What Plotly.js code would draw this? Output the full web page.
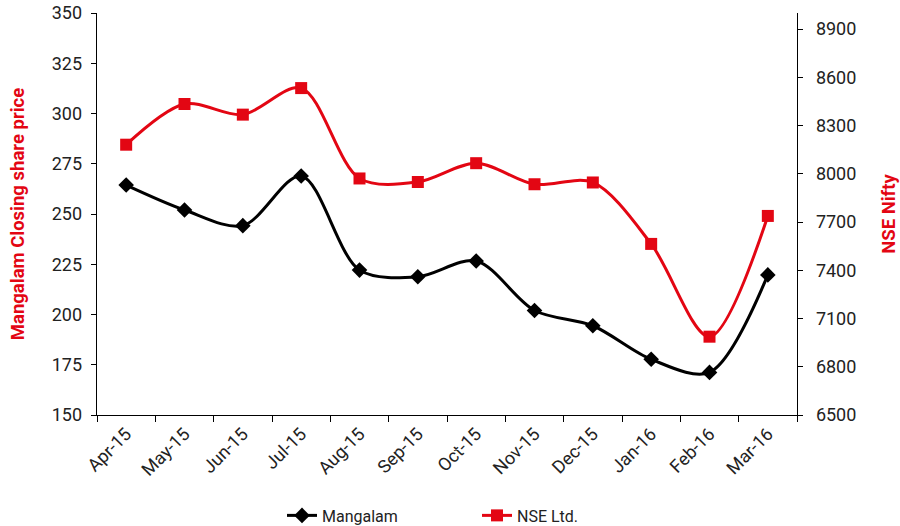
<!DOCTYPE html>
<html>
<head>
<meta charset="utf-8">
<script src="https://cdn.plot.ly/plotly-3.0.1.min.js"></script>
<style>html,body{margin:0;padding:0;background:#fff}#chart{width:900px;height:526px}</style>
</head>
<body>
<div id="chart"></div>
<script>
const months = ["Apr-15","May-15","Jun-15","Jul-15","Aug-15","Sep-15","Oct-15","Nov-15","Dec-15","Jan-16","Feb-16","Mar-16"];
const mangalam = [264.4, 252.0, 244.2, 268.9, 222.1, 218.8, 226.6, 202.0, 194.4, 177.7, 171.2, 219.7];
const nse = [8181, 8434, 8368, 8533, 7971, 7949, 8066, 7935, 7946, 7564, 6987, 7738];
const leftTicks = [150, 175, 200, 225, 250, 275, 300, 325, 350];
const rightTicks = [6500, 6800, 7100, 7400, 7700, 8000, 8300, 8600, 8900];

const red = "#e30613";
const txt = "#222222";

const traces = [
  {
    x: months, y: mangalam, name: "Mangalam", type: "scatter", mode: "lines+markers",
    line: {color: "#000000", width: 3, shape: "spline", smoothing: 0.9},
    marker: {symbol: "diamond", size: 12, color: "#000000"},
    yaxis: "y"
  },
  {
    x: months, y: nse, name: "NSE Ltd.", type: "scatter", mode: "lines+markers",
    line: {color: red, width: 3, shape: "spline", smoothing: 0.9},
    marker: {symbol: "square", size: 12, color: red},
    yaxis: "y2"
  }
];

const layout = {
  width: 900, height: 526,
  margin: {l: 97, r: 103, t: 13, b: 111},
  paper_bgcolor: "#ffffff", plot_bgcolor: "#ffffff",
  font: {family: "Roboto, sans-serif", color: txt, size: 18},
  showlegend: true,
  legend: {orientation: "h", x: 0.53, xanchor: "center", xref: "container",
           y: 0.02, yanchor: "middle", yref: "container",
           font: {size: 16, color: txt}, entrywidth: 150, entrywidthmode: "pixels"},
  xaxis: {
    type: "category", range: [-0.5, 11.5], automargin: false,
    showline: true, linecolor: "#000", linewidth: 1.3,
    ticks: "outside", tickson: "boundaries", ticklen: 6, tickcolor: "#000",
    tickangle: -45, showgrid: false, zeroline: false,
    tickfont: {size: 18, color: txt}
  },
  yaxis: {
    range: [150, 350], tickvals: leftTicks, automargin: false,
    showline: true, linecolor: "#000", linewidth: 1.3,
    ticks: "outside", ticklen: 5, tickcolor: "#000", ticklabelstandoff: 5,
    showgrid: false, zeroline: false,
    tickfont: {size: 18, color: txt},
    title: {text: "Mangalam Closing share price", font: {size: 18.5, color: red, family: "Roboto, sans-serif", weight: "bold"}, standoff: 22}
  },
  yaxis2: {
    range: [6500, 9000], tickvals: rightTicks, overlaying: "y", side: "right", automargin: false,
    showline: true, linecolor: "#000", linewidth: 1.3,
    ticks: "outside", ticklen: 5, tickcolor: "#000", ticklabelstandoff: 9,
    showgrid: false, zeroline: false,
    tickfont: {size: 18, color: txt},
    title: {text: "NSE Nifty", font: {size: 18.5, color: red, family: "Roboto, sans-serif", weight: "bold"}, standoff: 26}
  }
};

Plotly.newPlot("chart", traces, layout, {displayModeBar: false, staticPlot: true});
</script>
</body>
</html>
